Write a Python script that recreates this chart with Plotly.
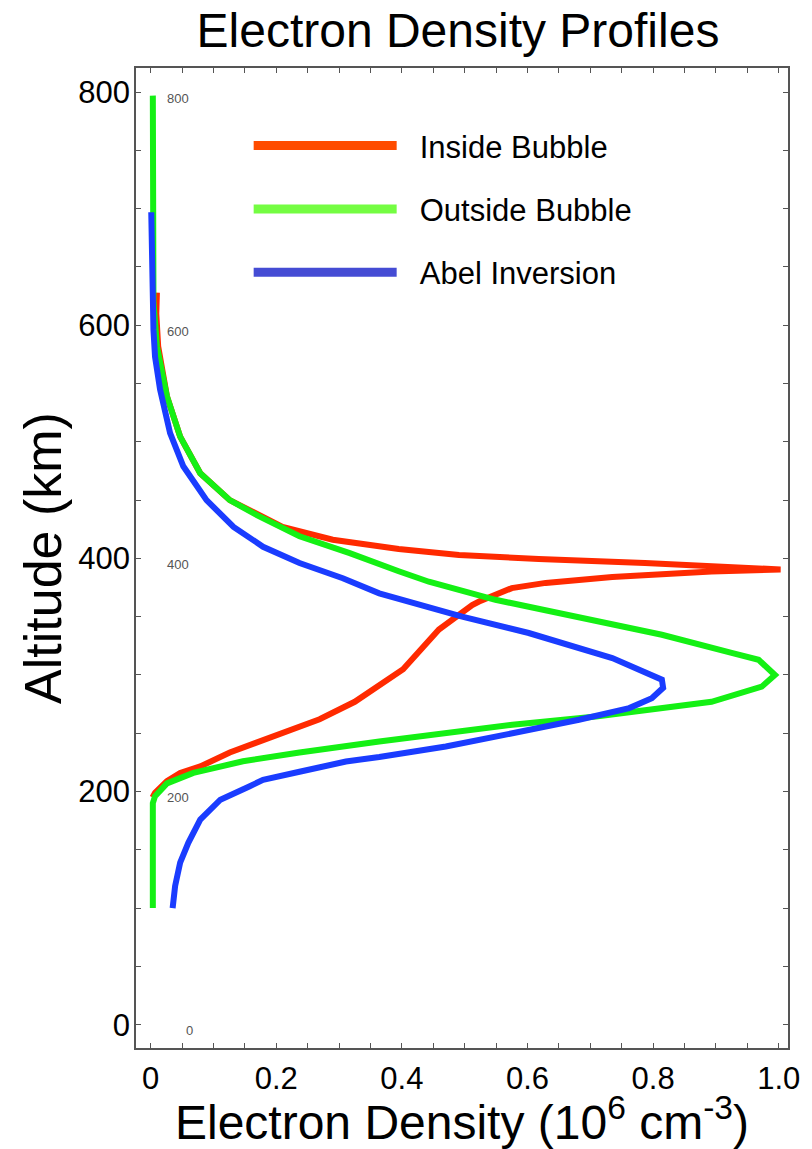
import plotly.graph_objects as go

# ---------------- data ----------------
inside_density = [0.010, 0.009, 0.012, 0.026, 0.047, 0.079, 0.126, 0.163, 0.210, 0.290,
                  0.343, 0.395, 0.491, 0.618, 0.787, 0.904, 1.003, 0.893, 0.735, 0.629,
                  0.575, 0.523, 0.512, 0.459, 0.402, 0.325, 0.269, 0.126, 0.079, 0.047,
                  0.026, 0.007, 0.003]
inside_alt = [628, 610, 582, 539, 504.5, 473, 450, 440, 427, 416,
              411.7, 408, 403, 399.4, 396, 393, 390.5, 388.8, 384, 379,
              374.5, 363, 360, 339, 305, 277, 262, 233.5, 221.5, 216,
              209, 199, 195]

outside_density = [0.0035, 0.0035, 0.004, 0.0045, 0.010, 0.026, 0.047, 0.079, 0.126, 0.173,
                   0.237, 0.317, 0.395, 0.443, 0.549, 0.682, 0.814, 0.925, 0.968, 0.994,
                   0.973, 0.893, 0.709, 0.576, 0.459, 0.364, 0.237, 0.147, 0.068, 0.026,
                   0.007, 0.0035, 0.0035]
outside_alt = [797, 700, 640, 620, 582, 539, 504.5, 473, 450, 436,
               419, 404.5, 389, 380, 364.5, 349, 334.5, 319, 313, 300,
               290, 277, 264.4, 257.3, 250, 243, 233.5, 226, 216, 207,
               196, 190, 100]

abel_density = [0.001, 0.002, 0.003, 0.0045, 0.007, 0.015, 0.031, 0.052, 0.089, 0.132,
                0.179, 0.237, 0.306, 0.364, 0.496, 0.602, 0.735, 0.787, 0.814, 0.816,
                0.798, 0.762, 0.682, 0.576, 0.470, 0.364, 0.311, 0.237, 0.179, 0.157,
                0.111, 0.079, 0.060, 0.047, 0.039, 0.035]
abel_alt = [697, 640, 613, 596, 573, 545, 507.5, 479, 450, 427,
            410, 396, 383, 370, 350, 336, 314.5, 303, 296, 289,
            280, 271.6, 261.6, 250, 238.7, 229.6, 225.8, 217, 210, 204.4,
            193, 176, 156, 139, 119, 100]

series_names = ["Inside Bubble", "Outside Bubble", "Abel Inversion"]
line_colors = ["#ff2a00", "#14f014", "#1a3cff"]
legend_colors = ["#ff4c00", "#74fd42", "#454cd4"]

x_tick_vals = [0, 0.2, 0.4, 0.6, 0.8, 1.0]
x_tick_text = ["0", "0.2", "0.4", "0.6", "0.8", "1.0"]
y_tick_vals = [0, 200, 400, 600, 800]
y_tick_text = ["0", "200", "400", "600", "800"]

inner_label_text = ["800", "600", "400", "200", "0"]
inner_label_alt = [800, 600, 400, 200, 0]
inner_label_x = [0.043, 0.043, 0.043, 0.043, 0.062]

FONT = "Liberation Sans, Arial, Helvetica, sans-serif"

fig = go.Figure()

data = [(inside_density, inside_alt), (outside_density, outside_alt), (abel_density, abel_alt)]
for (xs, ys), col in zip(data, line_colors):
    fig.add_trace(go.Scatter(x=xs, y=ys, mode="lines", showlegend=False,
                             line=dict(color=col, width=6), hoverinfo="skip"))

# legend-only entries (legend swatches use slightly different tints)
for i, (name, col) in enumerate(zip(series_names, legend_colors)):
    fig.add_trace(go.Scatter(x=[None], y=[None], mode="lines", name="\u2002\u200a" + name,
                             legendgroup=str(i), line=dict(color=col, width=9)))

for txt, alt, xv in zip(inner_label_text, inner_label_alt, inner_label_x):
    fig.add_annotation(x=xv, y=alt, xref="x", yref="y", text=txt, showarrow=False,
                       yshift=-6,
                       font=dict(family=FONT, size=13, color="#555555"))

axis_common = dict(showgrid=False, zeroline=False, showline=True, linecolor="#555555",
                   linewidth=1.5, mirror="allticks", ticks="inside", ticklen=5,
                   tickcolor="#555555", tickwidth=1,
                   tickfont=dict(family=FONT, size=31, color="black"))

fig.update_layout(
    width=812, height=1149,
    margin=dict(l=136, r=22, t=68, b=101),
    paper_bgcolor="white", plot_bgcolor="white",
    title=dict(text="Electron Density Profiles", x=0.564, xanchor="center",
               y=0.974, yanchor="middle",
               font=dict(family=FONT, size=48, color="black")),
    xaxis=dict(range=[-0.0233, 1.0148], tickvals=x_tick_vals, ticktext=x_tick_text,
               minor=dict(tick0=0, dtick=0.05, ticks="inside", ticklen=5,
                          tickcolor="#555555"),
               ticklabelstandoff=2,
               title=dict(text="Electron Density (10<sup>6</sup> cm<sup>-3</sup>)",
                          font=dict(family=FONT, size=48, color="black"), standoff=4),
               **axis_common),
    yaxis=dict(range=[-20, 820.7], tickvals=y_tick_vals, ticktext=y_tick_text,
               minor=dict(tick0=0, dtick=50, ticks="inside", ticklen=5,
                          tickcolor="#555555"),
               ticklabelstandoff=-2,
               title=dict(text="Altitude (km)",
                          font=dict(family=FONT, size=52, color="black"), standoff=0),
               **axis_common),
    legend=dict(x=0.1728, y=0.948, xanchor="left", yanchor="top",
                bgcolor="rgba(0,0,0,0)", borderwidth=0,
                font=dict(family=FONT, size=31, color="black"),
                itemwidth=143, tracegroupgap=20),
)

fig.write_html("out.html")
